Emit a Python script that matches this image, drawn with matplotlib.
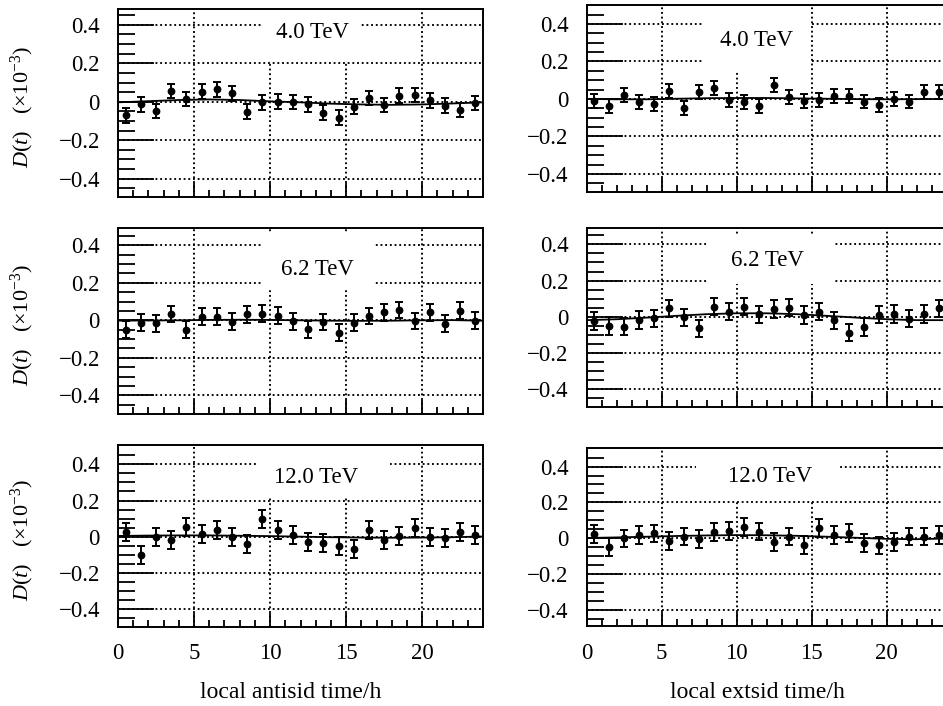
import matplotlib
matplotlib.use("Agg")
import matplotlib.pyplot as plt
from matplotlib.patches import Rectangle

plt.rcParams['font.family'] = ['Liberation Serif', 'DejaVu Serif']
plt.rcParams['mathtext.fontset'] = 'custom'
plt.rcParams['mathtext.rm'] = 'Liberation Serif'
plt.rcParams['mathtext.it'] = 'Liberation Serif:italic'
plt.rcParams['mathtext.bf'] = 'Liberation Serif:bold'
plt.rcParams['axes.unicode_minus'] = True

# ---------------- data ----------------
hours = [0.5, 1.5, 2.5, 3.5, 4.5, 5.5, 6.5, 7.5, 8.5, 9.5, 10.5, 11.5,
         12.5, 13.5, 14.5, 15.5, 16.5, 17.5, 18.5, 19.5, 20.5, 21.5, 22.5, 23.5]
curve_hours = [0, 2, 4, 6, 8, 10, 12, 14, 16, 18, 20, 22, 24]

energies = ["4.0 TeV", "6.2 TeV", "12.0 TeV"]

# antisidereal time (left column)
anti_4 = [-0.071, -0.014, -0.049, 0.056, 0.014, 0.052, 0.064, 0.043, -0.052, -0.003, 0.000, -0.002,
          -0.014, -0.057, -0.082, -0.026, 0.019, -0.016, 0.031, 0.035, 0.007, -0.021, -0.043, -0.007]
anti_4_err = [0.038, 0.038, 0.038, 0.038, 0.038, 0.038, 0.038, 0.038, 0.038, 0.038, 0.038, 0.038,
              0.038, 0.038, 0.038, 0.038, 0.038, 0.038, 0.038, 0.038, 0.038, 0.038, 0.038, 0.038]
anti_4_fit = [-0.003, 0.003, 0.009, 0.012, 0.009, 0.002, -0.003, -0.010, -0.014, -0.016, -0.014, -0.009, -0.003]

anti_6 = [-0.051, -0.012, -0.016, 0.034, -0.050, 0.019, 0.019, -0.007, 0.032, 0.035, 0.025, -0.005,
          -0.048, -0.009, -0.067, -0.012, 0.023, 0.042, 0.055, -0.004, 0.042, -0.019, 0.051, -0.002]
anti_6_err = [0.045, 0.045, 0.045, 0.045, 0.045, 0.045, 0.045, 0.045, 0.045, 0.045, 0.045, 0.045,
              0.045, 0.045, 0.045, 0.045, 0.045, 0.045, 0.045, 0.045, 0.045, 0.045, 0.045, 0.045]
anti_6_fit = [-0.002, -0.001, 0.000, 0.002, 0.003, 0.002, 0.000, -0.002, -0.003, -0.002, 0.000, 0.001, -0.002]

anti_12 = [0.028, -0.103, -0.002, -0.020, 0.055, 0.013, 0.037, 0.000, -0.039, 0.096, 0.037, 0.011,
           -0.029, -0.037, -0.053, -0.070, 0.037, -0.018, 0.004, 0.050, 0.000, -0.006, 0.024, 0.011]
anti_12_err = [0.050, 0.050, 0.050, 0.050, 0.050, 0.050, 0.050, 0.050, 0.050, 0.050, 0.050, 0.050,
               0.050, 0.050, 0.050, 0.050, 0.050, 0.050, 0.050, 0.050, 0.050, 0.050, 0.050, 0.050]
anti_12_fit = [0.004, 0.006, 0.007, 0.007, 0.005, 0.003, 0.000, -0.003, -0.005, -0.006, -0.005, -0.003, 0.001]

# extended-sidereal time (right column)
ext_4 = [-0.011, -0.037, 0.021, -0.016, -0.025, 0.044, -0.050, 0.036, 0.057, -0.005, -0.016, -0.039,
         0.073, 0.012, -0.012, -0.004, 0.014, 0.014, -0.014, -0.032, 0.000, -0.014, 0.036, 0.036]
ext_4_err = [0.037, 0.037, 0.037, 0.037, 0.037, 0.037, 0.037, 0.037, 0.037, 0.037, 0.037, 0.037,
             0.037, 0.037, 0.037, 0.037, 0.037, 0.037, 0.037, 0.037, 0.037, 0.037, 0.037, 0.037]
ext_4_fit = [0.000, -0.002, -0.002, 0.001, 0.004, 0.005, 0.005, 0.003, 0.001, -0.001, -0.002, -0.001, 0.000]

ext_6 = [-0.024, -0.052, -0.055, -0.018, -0.009, 0.046, -0.004, -0.065, 0.055, 0.028, 0.055, 0.013,
         0.042, 0.050, 0.009, 0.028, -0.020, -0.088, -0.057, 0.011, 0.015, -0.011, 0.015, 0.046]
ext_6_err = [0.048, 0.048, 0.048, 0.048, 0.048, 0.048, 0.048, 0.048, 0.048, 0.048, 0.048, 0.048,
             0.048, 0.048, 0.048, 0.048, 0.048, 0.048, 0.048, 0.048, 0.048, 0.048, 0.048, 0.048]
ext_6_fit = [-0.019, -0.014, -0.005, 0.005, 0.014, 0.019, 0.019, 0.014, 0.005, -0.005, -0.014, -0.019, -0.019]

ext_12 = [0.024, -0.050, -0.002, 0.017, 0.026, -0.018, 0.009, -0.004, 0.033, 0.042, 0.063, 0.037,
          -0.024, 0.009, -0.037, 0.059, 0.018, 0.031, -0.028, -0.041, -0.024, 0.009, 0.009, 0.020]
ext_12_err = [0.050, 0.050, 0.050, 0.050, 0.050, 0.050, 0.050, 0.050, 0.050, 0.050, 0.050, 0.050,
              0.050, 0.050, 0.050, 0.050, 0.050, 0.050, 0.050, 0.050, 0.050, 0.050, 0.050, 0.050]
ext_12_fit = [0.001, 0.004, 0.008, 0.012, 0.015, 0.017, 0.016, 0.013, 0.008, 0.002, -0.004, -0.006, -0.002]

xticks = [0, 5, 10, 15, 20]
xtick_labels = ["0", "5", "10", "15", "20"]
yticks = [-0.4, -0.2, 0.0, 0.2, 0.4]
ytick_labels = ["\u22120.4", "\u22120.2", "0", "0.2", "0.4"]
xlabels = ["local antisid time/h", "local extsid time/h"]
ylabel = r"$D(t)$   $(\times10^{-3})$"

# ---------------- layout ----------------
W, H = 943, 706
fig = plt.figure(figsize=(W / 100, H / 100), dpi=100)

# (left_px, width_px) per column ; (top_px, bottom_px, ylim) per panel
cols = [(118, 365), (586.7, 360)]
panel_geo = {
    (0, 0): (9, 197, (-0.495, 0.482)),
    (0, 1): (5, 192.3, (-0.498, 0.501)),
    (1, 0): (228.3, 414, (-0.500, 0.491)),
    (1, 1): (228.3, 407.3, (-0.501, 0.489)),
    (2, 0): (445, 626.7, (-0.498, 0.507)),
    (2, 1): (448.3, 626, (-0.491, 0.502)),
}
# label box (x0, x1, y0, y1) and text position
label_geo = {
    (0, 0): ((9.5, 16.0, 0.21, 0.49), (12.8, 0.36)),
    (0, 1): ((7.8, 14.95, 0.15, 0.51), (11.3, 0.31)),
    (1, 0): ((9.45, 16.9, 0.16, 0.46), (13.1, 0.27)),
    (1, 1): ((8.1, 16.4, 0.18, 0.46), (12.05, 0.31)),
    (2, 0): ((9.1, 17.9, 0.22, 0.51), (13.0, 0.33)),
    (2, 1): ((7.3, 16.9, 0.215, 0.51), (12.2, 0.345)),
}

series = {
    (0, 0): (anti_4, anti_4_err, anti_4_fit),
    (1, 0): (anti_6, anti_6_err, anti_6_fit),
    (2, 0): (anti_12, anti_12_err, anti_12_fit),
    (0, 1): (ext_4, ext_4_err, ext_4_fit),
    (1, 1): (ext_6, ext_6_err, ext_6_fit),
    (2, 1): (ext_12, ext_12_err, ext_12_fit),
}

for (r, c), (top, bot, ylim) in panel_geo.items():
    lpx, wpx = cols[c]
    ax = fig.add_axes([lpx / W, 1 - bot / H, wpx / W, (bot - top) / H])
    vals, errs, fit = series[(r, c)]

    ax.set_xlim(0, 24)
    ax.set_ylim(*ylim)

    ax.errorbar(hours, vals, yerr=errs, fmt='o', color='black', markersize=4.6,
                elinewidth=1.4, capsize=2.6, capthick=1.4, zorder=4)
    ax.plot(curve_hours, fit, color='black', linewidth=1.3, zorder=3)

    # ticks
    ax.set_xticks(xticks)
    ax.set_xticks(list(range(0, 25)), minor=True)
    ax.set_yticks(yticks)
    ax.set_yticks([-0.45, -0.35, -0.3, -0.25, -0.15, -0.1, -0.05, 0.05, 0.1, 0.15,
                   0.25, 0.3, 0.35, 0.45], minor=True)
    if r == 2:
        ax.set_xticklabels(xtick_labels)
    else:
        ax.set_xticklabels([])
    ax.set_yticklabels(ytick_labels)

    ax.tick_params(axis='both', which='both', direction='in', top=False, right=False,
                   width=1.3, color='black', labelsize=16.5)
    ax.tick_params(axis='y', which='major', length=26, pad=13)
    ax.tick_params(axis='y', which='minor', length=12.5)
    ax.tick_params(axis='x', which='major', length=10, pad=12)
    ax.tick_params(axis='x', which='minor', length=5)

    for sp in ax.spines.values():
        sp.set_linewidth(1.4)
        sp.set_color('black')

    ax.grid(True, which='major', color='black', linestyle=(0, (1, 1.5)), linewidth=1.35)

    (bx0, bx1, by0, by1), (tx, ty) = label_geo[(r, c)]
    ax.add_patch(Rectangle((bx0, by0), bx1 - bx0, by1 - by0, facecolor='white',
                           edgecolor='none', zorder=2.2))
    ax.text(tx, ty, energies[r], ha='center', va='center', fontsize=16.5, zorder=3)

    if c == 0:
        ycen = 1 - ((top + bot) / 2 + 4) / H
        fig.text(22 / W, ycen, ylabel, rotation=90, ha='center', va='center', fontsize=16)

fig.text(291 / W, 1 - 692 / H, xlabels[0], ha='center', va='center', fontsize=17)
fig.text(757 / W, 1 - 692 / H, xlabels[1], ha='center', va='center', fontsize=17)

fig.savefig("out.png", dpi=100)
